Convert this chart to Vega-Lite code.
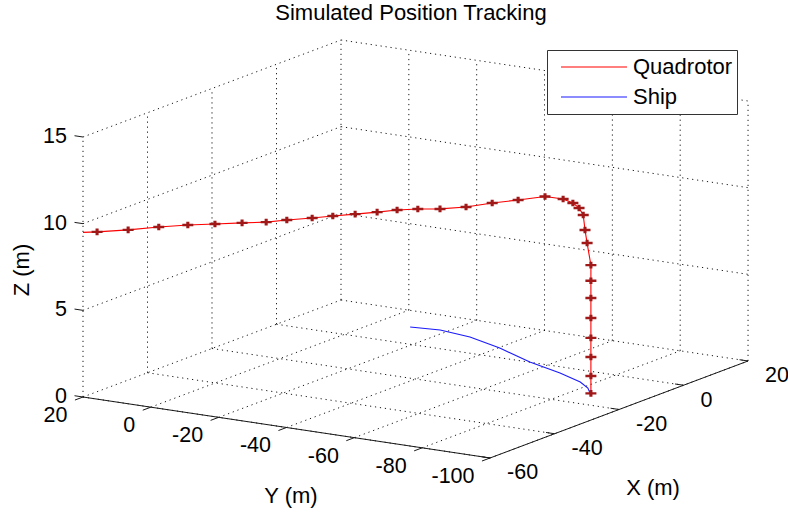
{
  "$schema": "https://vega.github.io/schema/vega-lite/v6.json",
  "width": 788,
  "height": 513,
  "autosize": "none",
  "padding": 0,
  "background": "white",
  "title": {
    "text": "Simulated Position Tracking",
    "font": "Liberation Sans",
    "fontSize": 22,
    "fontWeight": "normal",
    "color": "#000000",
    "anchor": "middle",
    "frame": "group",
    "baseline": "alphabetic",
    "offset": 0,
    "dy": 42,
    "dx": 17
  },
  "config": {
    "view": {"stroke": null},
    "font": "Liberation Sans",
    "legend": {
      "orient": "none",
      "legendX": 547,
      "legendY": 50,
      "padding": 4,
      "strokeColor": "#333333",
      "fillColor": "#ffffff",
      "cornerRadius": 0,
      "symbolType": "stroke",
      "symbolSize": 4356,
      "symbolStrokeWidth": 1.2,
      "symbolOffset": 9,
      "labelFont": "Liberation Sans",
      "labelFontSize": 22,
      "labelColor": "#000000",
      "labelOffset": 5,
      "clipHeight": 26,
      "rowPadding": 4,
      "title": null
    }
  },
  "datasets": {
    "grid": [
      {"X1": -60, "Y1": 20, "Z1": 0, "X2": -60, "Y2": -100, "Z2": 0},
      {"X1": -40, "Y1": 20, "Z1": 0, "X2": -40, "Y2": -100, "Z2": 0},
      {"X1": -20, "Y1": 20, "Z1": 0, "X2": -20, "Y2": -100, "Z2": 0},
      {"X1": 0, "Y1": 20, "Z1": 0, "X2": 0, "Y2": -100, "Z2": 0},
      {"X1": 20, "Y1": 20, "Z1": 0, "X2": 20, "Y2": -100, "Z2": 0},
      {"X1": -60, "Y1": 20, "Z1": 0, "X2": 20, "Y2": 20, "Z2": 0},
      {"X1": -60, "Y1": 0, "Z1": 0, "X2": 20, "Y2": 0, "Z2": 0},
      {"X1": -60, "Y1": -20, "Z1": 0, "X2": 20, "Y2": -20, "Z2": 0},
      {"X1": -60, "Y1": -40, "Z1": 0, "X2": 20, "Y2": -40, "Z2": 0},
      {"X1": -60, "Y1": -60, "Z1": 0, "X2": 20, "Y2": -60, "Z2": 0},
      {"X1": -60, "Y1": -80, "Z1": 0, "X2": 20, "Y2": -80, "Z2": 0},
      {"X1": -60, "Y1": -100, "Z1": 0, "X2": 20, "Y2": -100, "Z2": 0},
      {"X1": -60, "Y1": 20, "Z1": 0, "X2": -60, "Y2": 20, "Z2": 15},
      {"X1": -40, "Y1": 20, "Z1": 0, "X2": -40, "Y2": 20, "Z2": 15},
      {"X1": -20, "Y1": 20, "Z1": 0, "X2": -20, "Y2": 20, "Z2": 15},
      {"X1": 0, "Y1": 20, "Z1": 0, "X2": 0, "Y2": 20, "Z2": 15},
      {"X1": 20, "Y1": 20, "Z1": 0, "X2": 20, "Y2": 20, "Z2": 15},
      {"X1": -60, "Y1": 20, "Z1": 5, "X2": 20, "Y2": 20, "Z2": 5},
      {"X1": -60, "Y1": 20, "Z1": 10, "X2": 20, "Y2": 20, "Z2": 10},
      {"X1": -60, "Y1": 20, "Z1": 15, "X2": 20, "Y2": 20, "Z2": 15},
      {"X1": 20, "Y1": 0, "Z1": 0, "X2": 20, "Y2": 0, "Z2": 15},
      {"X1": 20, "Y1": -20, "Z1": 0, "X2": 20, "Y2": -20, "Z2": 15},
      {"X1": 20, "Y1": -40, "Z1": 0, "X2": 20, "Y2": -40, "Z2": 15},
      {"X1": 20, "Y1": -60, "Z1": 0, "X2": 20, "Y2": -60, "Z2": 15},
      {"X1": 20, "Y1": -80, "Z1": 0, "X2": 20, "Y2": -80, "Z2": 15},
      {"X1": 20, "Y1": -100, "Z1": 0, "X2": 20, "Y2": -100, "Z2": 15},
      {"X1": 20, "Y1": 20, "Z1": 5, "X2": 20, "Y2": -100, "Z2": 5},
      {"X1": 20, "Y1": 20, "Z1": 10, "X2": 20, "Y2": -100, "Z2": 10},
      {"X1": 20, "Y1": 20, "Z1": 15, "X2": 20, "Y2": -100, "Z2": 15}
    ],
    "axisLines": [
      {"X1": -60, "Y1": 20, "Z1": 0, "X2": -60, "Y2": -100, "Z2": 0},
      {"X1": -60, "Y1": -100, "Z1": 0, "X2": 20, "Y2": -100, "Z2": 0},
      {"X1": -60, "Y1": 20, "Z1": 0, "X2": -62.5, "Y2": 20, "Z2": 0},
      {"X1": -60, "Y1": 0, "Z1": 0, "X2": -62.5, "Y2": 0, "Z2": 0},
      {"X1": -60, "Y1": -20, "Z1": 0, "X2": -62.5, "Y2": -20, "Z2": 0},
      {"X1": -60, "Y1": -40, "Z1": 0, "X2": -62.5, "Y2": -40, "Z2": 0},
      {"X1": -60, "Y1": -60, "Z1": 0, "X2": -62.5, "Y2": -60, "Z2": 0},
      {"X1": -60, "Y1": -80, "Z1": 0, "X2": -62.5, "Y2": -80, "Z2": 0},
      {"X1": -60, "Y1": -100, "Z1": 0, "X2": -62.5, "Y2": -100, "Z2": 0},
      {"X1": -60, "Y1": -100, "Z1": 0, "X2": -60, "Y2": -97.5, "Z2": 0},
      {"X1": -40, "Y1": -100, "Z1": 0, "X2": -40, "Y2": -97.5, "Z2": 0},
      {"X1": -20, "Y1": -100, "Z1": 0, "X2": -20, "Y2": -97.5, "Z2": 0},
      {"X1": 0, "Y1": -100, "Z1": 0, "X2": 0, "Y2": -97.5, "Z2": 0},
      {"X1": 20, "Y1": -100, "Z1": 0, "X2": 20, "Y2": -97.5, "Z2": 0},
      {"X1": -60, "Y1": 20, "Z1": 0, "X2": -60, "Y2": 22.5, "Z2": 0},
      {"X1": -60, "Y1": 20, "Z1": 5, "X2": -60, "Y2": 22.5, "Z2": 5},
      {"X1": -60, "Y1": 20, "Z1": 10, "X2": -60, "Y2": 22.5, "Z2": 10},
      {"X1": -60, "Y1": 20, "Z1": 15, "X2": -60, "Y2": 22.5, "Z2": 15}
    ],
    "tickLabels": [
      {"axis": "Y", "X": -60, "Y": 20, "Z": 0, "text": "20"},
      {"axis": "Y", "X": -60, "Y": 0, "Z": 0, "text": "0"},
      {"axis": "Y", "X": -60, "Y": -20, "Z": 0, "text": "-20"},
      {"axis": "Y", "X": -60, "Y": -40, "Z": 0, "text": "-40"},
      {"axis": "Y", "X": -60, "Y": -60, "Z": 0, "text": "-60"},
      {"axis": "Y", "X": -60, "Y": -80, "Z": 0, "text": "-80"},
      {"axis": "Y", "X": -60, "Y": -100, "Z": 0, "text": "-100"},
      {"axis": "X", "X": -60, "Y": -100, "Z": 0, "text": "-60"},
      {"axis": "X", "X": -40, "Y": -100, "Z": 0, "text": "-40"},
      {"axis": "X", "X": -20, "Y": -100, "Z": 0, "text": "-20"},
      {"axis": "X", "X": 0, "Y": -100, "Z": 0, "text": "0"},
      {"axis": "X", "X": 20, "Y": -100, "Z": 0, "text": "20"},
      {"axis": "Z", "X": -60, "Y": 20, "Z": 0, "text": "0"},
      {"axis": "Z", "X": -60, "Y": 20, "Z": 5, "text": "5"},
      {"axis": "Z", "X": -60, "Y": 20, "Z": 10, "text": "10"},
      {"axis": "Z", "X": -60, "Y": 20, "Z": 15, "text": "15"}
    ],
    "axisTitles": [
      {"axis": "Y", "X": -60, "Y": -40, "Z": 0, "text": "Y (m)"},
      {"axis": "X", "X": -20, "Y": -100, "Z": 0, "text": "X (m)"},
      {"axis": "Z", "X": -60, "Y": 20, "Z": 7.5, "text": "Z (m)"}
    ],
    "traj": [
      {"series": "Quadrotor", "t": 0, "X": -60, "Y": 20, "Z": 9.5},
      {"series": "Quadrotor", "t": 1, "X": -59.0, "Y": 16.8, "Z": 9.55},
      {"series": "Quadrotor", "t": 2, "X": -56.1, "Y": 10.4, "Z": 9.65},
      {"series": "Quadrotor", "t": 3, "X": -52.7, "Y": 4.6, "Z": 9.75},
      {"series": "Quadrotor", "t": 4, "X": -49.9, "Y": -1.3, "Z": 9.84},
      {"series": "Quadrotor", "t": 5, "X": -47.8, "Y": -7.3, "Z": 9.93},
      {"series": "Quadrotor", "t": 6, "X": -45.7, "Y": -13.3, "Z": 10.02},
      {"series": "Quadrotor", "t": 7, "X": -43.8, "Y": -18.6, "Z": 10.09},
      {"series": "Quadrotor", "t": 8, "X": -41.5, "Y": -22.5, "Z": 10.16},
      {"series": "Quadrotor", "t": 9, "X": -38.9, "Y": -27.5, "Z": 10.24},
      {"series": "Quadrotor", "t": 10, "X": -36.6, "Y": -31.4, "Z": 10.31},
      {"series": "Quadrotor", "t": 11, "X": -34.2, "Y": -35.7, "Z": 10.38},
      {"series": "Quadrotor", "t": 12, "X": -31.8, "Y": -39.9, "Z": 10.45},
      {"series": "Quadrotor", "t": 13, "X": -29.5, "Y": -43.6, "Z": 10.52},
      {"series": "Quadrotor", "t": 14, "X": -27.8, "Y": -48.1, "Z": 10.59},
      {"series": "Quadrotor", "t": 15, "X": -26.5, "Y": -53.4, "Z": 10.66},
      {"series": "Quadrotor", "t": 16, "X": -23.9, "Y": -58.6, "Z": 10.74},
      {"series": "Quadrotor", "t": 17, "X": -20.1, "Y": -62.7, "Z": 10.83},
      {"series": "Quadrotor", "t": 18, "X": -16.9, "Y": -67.3, "Z": 10.91},
      {"series": "Quadrotor", "t": 19, "X": -13.4, "Y": -71.9, "Z": 11.0},
      {"series": "Quadrotor", "t": 20, "X": -12.2, "Y": -76.1, "Z": 10.9},
      {"series": "Quadrotor", "t": 21, "X": -11.7, "Y": -78.5, "Z": 10.7},
      {"series": "Quadrotor", "t": 22, "X": -12.0, "Y": -80.6, "Z": 10.5},
      {"series": "Quadrotor", "t": 23, "X": -12.7, "Y": -82.5, "Z": 10.2},
      {"series": "Quadrotor", "t": 24, "X": -13.2, "Y": -83.5, "Z": 9.4},
      {"series": "Quadrotor", "t": 25, "X": -13.6, "Y": -84.5, "Z": 8.7},
      {"series": "Quadrotor", "t": 26, "X": -14.0, "Y": -86.0, "Z": 7.5},
      {"series": "Quadrotor", "t": 27, "X": -14.0, "Y": -86.0, "Z": 6.6},
      {"series": "Quadrotor", "t": 28, "X": -14.0, "Y": -86.0, "Z": 5.6},
      {"series": "Quadrotor", "t": 29, "X": -14.0, "Y": -86.0, "Z": 4.45},
      {"series": "Quadrotor", "t": 30, "X": -14.0, "Y": -86.0, "Z": 3.3},
      {"series": "Quadrotor", "t": 31, "X": -14.0, "Y": -86.0, "Z": 2.2},
      {"series": "Quadrotor", "t": 32, "X": -14.0, "Y": -86.0, "Z": 1.1},
      {"series": "Quadrotor", "t": 33, "X": -14.0, "Y": -86.0, "Z": 0.1},
      {"series": "Ship", "t": 0, "X": 10.2, "Y": -9.7, "Z": 0},
      {"series": "Ship", "t": 1, "X": 11.1, "Y": -17.7, "Z": 0},
      {"series": "Ship", "t": 2, "X": 9.6, "Y": -27.9, "Z": 0},
      {"series": "Ship", "t": 3, "X": 5.7, "Y": -40.4, "Z": 0},
      {"series": "Ship", "t": 4, "X": 0.1, "Y": -54.6, "Z": 0},
      {"series": "Ship", "t": 5, "X": -3.7, "Y": -67.1, "Z": 0},
      {"series": "Ship", "t": 6, "X": -7.2, "Y": -76.4, "Z": 0},
      {"series": "Ship", "t": 7, "X": -10.1, "Y": -81.4, "Z": 0},
      {"series": "Ship", "t": 8, "X": -14.0, "Y": -86.0, "Z": 0}
    ]
  },
  "layer": [
    {
      "data": {"name": "grid"},
      "transform": [
        {"calculate": "83 + (20 - datum.Y1) * 3.392 + (datum.X1 + 60) * 3.225", "as": "px1"},
        {"calculate": "397 + (20 - datum.Y1) * 0.5083 - (datum.X1 + 60) * 1.2125 - datum.Z1 * 17.333", "as": "py1"},
        {"calculate": "83 + (20 - datum.Y2) * 3.392 + (datum.X2 + 60) * 3.225", "as": "px2"},
        {"calculate": "397 + (20 - datum.Y2) * 0.5083 - (datum.X2 + 60) * 1.2125 - datum.Z2 * 17.333", "as": "py2"}
      ],
      "mark": {"type": "rule", "stroke": "#000000", "strokeWidth": 1, "strokeDash": [1.2, 3.8], "opacity": 0.9},
      "encoding": {
        "x": {"field": "px1", "type": "quantitative", "scale": {"domain": [0, 788], "nice": false, "zero": false}, "axis": null},
        "y": {"field": "py1", "type": "quantitative", "scale": {"domain": [0, 513], "reverse": true, "nice": false, "zero": false}, "axis": null},
        "x2": {"field": "px2"},
        "y2": {"field": "py2"}
      }
    },
    {
      "data": {"name": "axisLines"},
      "transform": [
        {"calculate": "83 + (20 - datum.Y1) * 3.392 + (datum.X1 + 60) * 3.225", "as": "px1"},
        {"calculate": "397 + (20 - datum.Y1) * 0.5083 - (datum.X1 + 60) * 1.2125 - datum.Z1 * 17.333", "as": "py1"},
        {"calculate": "83 + (20 - datum.Y2) * 3.392 + (datum.X2 + 60) * 3.225", "as": "px2"},
        {"calculate": "397 + (20 - datum.Y2) * 0.5083 - (datum.X2 + 60) * 1.2125 - datum.Z2 * 17.333", "as": "py2"}
      ],
      "mark": {"type": "rule", "stroke": "#1a1a1a", "strokeWidth": 1},
      "encoding": {
        "x": {"field": "px1", "type": "quantitative"},
        "y": {"field": "py1", "type": "quantitative"},
        "x2": {"field": "px2"},
        "y2": {"field": "py2"}
      }
    },
    {
      "data": {"name": "tickLabels"},
      "transform": [
        {"filter": "datum.axis === 'Y'"},
        {"calculate": "83 + (20 - datum.Y) * 3.392 + (datum.X + 60) * 3.225", "as": "px"},
        {"calculate": "397 + (20 - datum.Y) * 0.5083 - (datum.X + 60) * 1.2125 - datum.Z * 17.333", "as": "py"}
      ],
      "mark": {"type": "text", "align": "right", "baseline": "middle", "dx": -15.5, "dy": 19, "fontSize": 21.5, "font": "Liberation Sans", "color": "#000000"},
      "encoding": {
        "x": {"field": "px", "type": "quantitative"},
        "y": {"field": "py", "type": "quantitative"},
        "text": {"field": "text"}
      }
    },
    {
      "data": {"name": "tickLabels"},
      "transform": [
        {"filter": "datum.axis === 'X'"},
        {"calculate": "83 + (20 - datum.Y) * 3.392 + (datum.X + 60) * 3.225", "as": "px"},
        {"calculate": "397 + (20 - datum.Y) * 0.5083 - (datum.X + 60) * 1.2125 - datum.Z * 17.333", "as": "py"}
      ],
      "mark": {"type": "text", "align": "left", "baseline": "middle", "dx": 17, "dy": 15.5, "fontSize": 21.5, "font": "Liberation Sans", "color": "#000000"},
      "encoding": {
        "x": {"field": "px", "type": "quantitative"},
        "y": {"field": "py", "type": "quantitative"},
        "text": {"field": "text"}
      }
    },
    {
      "data": {"name": "tickLabels"},
      "transform": [
        {"filter": "datum.axis === 'Z'"},
        {"calculate": "83 + (20 - datum.Y) * 3.392 + (datum.X + 60) * 3.225", "as": "px"},
        {"calculate": "397 + (20 - datum.Y) * 0.5083 - (datum.X + 60) * 1.2125 - datum.Z * 17.333", "as": "py"}
      ],
      "mark": {"type": "text", "align": "right", "baseline": "middle", "dx": -16, "dy": 0, "fontSize": 21.5, "font": "Liberation Sans", "color": "#000000"},
      "encoding": {
        "x": {"field": "px", "type": "quantitative"},
        "y": {"field": "py", "type": "quantitative"},
        "text": {"field": "text"}
      }
    },
    {
      "data": {"name": "axisTitles"},
      "transform": [
        {"filter": "datum.axis === 'Y'"},
        {"calculate": "83 + (20 - datum.Y) * 3.392 + (datum.X + 60) * 3.225", "as": "px"},
        {"calculate": "397 + (20 - datum.Y) * 0.5083 - (datum.X + 60) * 1.2125 - datum.Z * 17.333", "as": "py"}
      ],
      "mark": {"type": "text", "align": "center", "baseline": "middle", "dx": 4.5, "dy": 68.5, "fontSize": 22, "font": "Liberation Sans", "color": "#000000"},
      "encoding": {
        "x": {"field": "px", "type": "quantitative"},
        "y": {"field": "py", "type": "quantitative"},
        "text": {"field": "text"}
      }
    },
    {
      "data": {"name": "axisTitles"},
      "transform": [
        {"filter": "datum.axis === 'X'"},
        {"calculate": "83 + (20 - datum.Y) * 3.392 + (datum.X + 60) * 3.225", "as": "px"},
        {"calculate": "397 + (20 - datum.Y) * 0.5083 - (datum.X + 60) * 1.2125 - datum.Z * 17.333", "as": "py"}
      ],
      "mark": {"type": "text", "align": "center", "baseline": "middle", "dx": 34, "dy": 78.5, "fontSize": 22, "font": "Liberation Sans", "color": "#000000"},
      "encoding": {
        "x": {"field": "px", "type": "quantitative"},
        "y": {"field": "py", "type": "quantitative"},
        "text": {"field": "text"}
      }
    },
    {
      "data": {"name": "axisTitles"},
      "transform": [
        {"filter": "datum.axis === 'Z'"},
        {"calculate": "83 + (20 - datum.Y) * 3.392 + (datum.X + 60) * 3.225", "as": "px"},
        {"calculate": "397 + (20 - datum.Y) * 0.5083 - (datum.X + 60) * 1.2125 - datum.Z * 17.333", "as": "py"}
      ],
      "mark": {"type": "text", "align": "center", "baseline": "middle", "angle": 270, "dx": -3, "dy": -61, "fontSize": 22, "font": "Liberation Sans", "color": "#000000"},
      "encoding": {
        "x": {"field": "px", "type": "quantitative"},
        "y": {"field": "py", "type": "quantitative"},
        "text": {"field": "text"}
      }
    },
    {
      "data": {"name": "traj"},
      "transform": [
        {"calculate": "83 + (20 - datum.Y) * 3.392 + (datum.X + 60) * 3.225", "as": "px"},
        {"calculate": "397 + (20 - datum.Y) * 0.5083 - (datum.X + 60) * 1.2125 - datum.Z * 17.333", "as": "py"}
      ],
      "mark": {"type": "line", "strokeWidth": 1.1},
      "encoding": {
        "x": {"field": "px", "type": "quantitative"},
        "y": {"field": "py", "type": "quantitative"},
        "order": {"field": "t", "type": "quantitative"},
        "color": {
          "field": "series",
          "type": "nominal",
          "scale": {"domain": ["Quadrotor", "Ship"], "range": ["#ff0000", "#1a1aff"]}
        }
      }
    },
    {
      "data": {"name": "traj"},
      "transform": [
        {"filter": "datum.series === 'Quadrotor' && datum.t > 0"},
        {"calculate": "83 + (20 - datum.Y) * 3.392 + (datum.X + 60) * 3.225", "as": "px"},
        {"calculate": "397 + (20 - datum.Y) * 0.5083 - (datum.X + 60) * 1.2125 - datum.Z * 17.333", "as": "py"}
      ],
      "mark": {
        "type": "point",
        "filled": true,
        "shape": "M-1,-0.22L-0.28,-0.22L-0.28,-0.6L0.28,-0.6L0.28,-0.22L1,-0.22L1,0.22L0.28,0.22L0.28,0.6L-0.28,0.6L-0.28,0.22L-1,0.22Z",
        "size": 121,
        "color": "#a01818",
        "opacity": 1
      },
      "encoding": {
        "x": {"field": "px", "type": "quantitative"},
        "y": {"field": "py", "type": "quantitative"}
      }
    }
  ]
}
